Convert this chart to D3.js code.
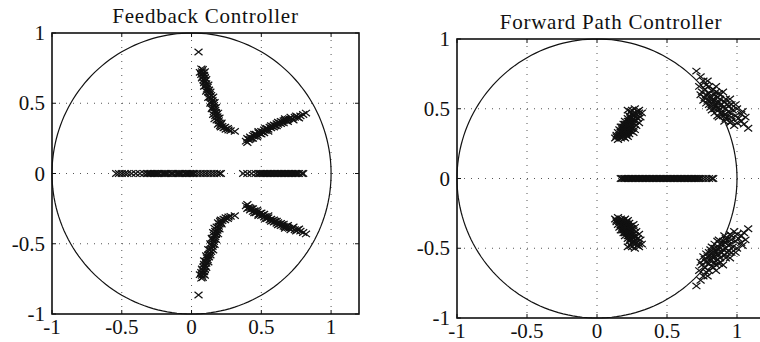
<!DOCTYPE html>
<html>
<head>
<meta charset="utf-8">
<script src="https://cdn.jsdelivr.net/npm/d3@7"></script>
<style>
  body { margin: 0; background: #fff; }
  svg text { font-family: "Liberation Serif", "DejaVu Serif", serif; fill: #111; }
</style>
</head>
<body>
<div id="chart"></div>
<script>
// axis setup shared by both panels
const xDomain = [-1, 1.2];
const yDomain = [-1, 1];
const tickValues = [-1, -0.5, 0, 0.5, 1];
const tickLabels = ['-1', '-0.5', '0', '0.5', '1'];

// Feedback controller poles (upper half plane, conjugates drawn too)
const feedbackBranchA = [
  [0.05,0.865],
  [0.07,0.745],[0.08,0.74],[0.075,0.725],[0.085,0.715],[0.07,0.705],[0.09,0.70],[0.08,0.69],
  [0.095,0.68],[0.085,0.665],[0.10,0.66],[0.09,0.645],[0.105,0.64],[0.10,0.625],[0.115,0.615],
  [0.11,0.60],[0.125,0.595],[0.12,0.58],[0.13,0.565],[0.14,0.555],[0.13,0.545],[0.145,0.535],
  [0.15,0.52],[0.14,0.51],[0.155,0.50],[0.16,0.485],[0.15,0.47],[0.165,0.465],[0.17,0.45],
  [0.16,0.44],[0.175,0.435],[0.18,0.42],[0.17,0.41],[0.185,0.405],[0.19,0.39],[0.18,0.38],
  [0.195,0.375],[0.20,0.36],[0.21,0.35],[0.205,0.34],[0.22,0.335],[0.23,0.325],[0.245,0.315],
  [0.265,0.31],[0.31,0.30],
  [0.06,0.72],[0.095,0.725],[0.075,0.68],[0.105,0.67],[0.09,0.62],[0.12,0.63],[0.105,0.585],
  [0.135,0.58],[0.12,0.54],[0.155,0.545],[0.135,0.50],[0.165,0.505],[0.145,0.46],[0.175,0.47],
  [0.155,0.42],[0.19,0.43],[0.165,0.39],[0.20,0.395],[0.19,0.35],[0.215,0.36],[0.21,0.33],
  [0.24,0.33],[0.26,0.32],[0.28,0.305]
];
const feedbackBranchB = [
  [0.39,0.23],[0.40,0.25],[0.41,0.24],[0.42,0.26],[0.43,0.25],[0.44,0.27],[0.45,0.265],
  [0.46,0.28],[0.47,0.275],[0.48,0.29],[0.49,0.285],[0.50,0.30],[0.51,0.295],[0.52,0.31],
  [0.53,0.305],[0.54,0.32],[0.55,0.315],[0.56,0.33],[0.57,0.325],[0.58,0.335],[0.59,0.345],
  [0.60,0.34],[0.61,0.355],[0.62,0.35],[0.63,0.36],[0.64,0.37],[0.65,0.365],[0.66,0.375],
  [0.67,0.38],[0.68,0.375],[0.69,0.385],[0.70,0.39],[0.72,0.39],[0.74,0.40],[0.76,0.40],
  [0.78,0.41],[0.82,0.43],
  [0.40,0.22],[0.42,0.245],[0.44,0.25],[0.45,0.28],[0.47,0.26],[0.48,0.30],[0.50,0.28],
  [0.52,0.29],[0.53,0.32],[0.55,0.30],[0.57,0.34],[0.59,0.33],[0.61,0.34],[0.62,0.365],
  [0.64,0.355],[0.66,0.36],[0.67,0.39],[0.69,0.37],[0.71,0.40],[0.73,0.38],[0.75,0.41],
  [0.77,0.395],[0.80,0.42]
];
const feedbackReal = [
  -0.54,-0.52,-0.50,-0.48,-0.46,-0.43,-0.40,-0.37,-0.34,-0.32,-0.31,-0.30,-0.29,-0.28,-0.27,
  -0.26,-0.25,-0.24,-0.23,-0.21,-0.20,-0.19,-0.18,-0.17,-0.15,-0.14,-0.13,-0.11,-0.10,-0.09,
  -0.08,-0.07,-0.05,-0.04,-0.03,-0.02,-0.01,0.00,0.01,0.02,0.04,0.06,0.08,0.10,0.12,0.14,
  0.16,0.18,0.20,0.21,
  0.37,0.40,0.43,0.46,0.48,0.49,0.50,0.51,0.52,0.53,0.54,0.55,0.56,0.57,0.58,0.59,0.60,
  0.61,0.62,0.63,0.64,0.65,0.66,0.67,0.68,0.69,0.70,0.71,0.72,0.73,0.74,0.75,0.76,0.77,
  0.79,0.80
];

// Forward path controller poles
const forwardInner = [
  [0.13,0.29],[0.15,0.28],[0.17,0.29],[0.14,0.31],[0.16,0.31],[0.18,0.30],[0.20,0.29],
  [0.22,0.30],[0.15,0.33],[0.17,0.33],[0.19,0.32],[0.21,0.32],[0.23,0.32],[0.16,0.35],
  [0.18,0.35],[0.20,0.34],[0.22,0.34],[0.24,0.34],[0.26,0.33],[0.17,0.37],[0.19,0.37],
  [0.21,0.36],[0.23,0.36],[0.25,0.36],[0.27,0.35],[0.19,0.39],[0.21,0.39],[0.23,0.38],
  [0.25,0.38],[0.28,0.38],[0.20,0.41],[0.22,0.41],[0.24,0.40],[0.27,0.41],[0.30,0.40],
  [0.22,0.43],[0.24,0.43],[0.26,0.43],[0.29,0.43],[0.31,0.44],[0.23,0.45],[0.25,0.46],
  [0.28,0.46],[0.30,0.47],[0.22,0.49],[0.25,0.49],[0.27,0.50],[0.30,0.49],[0.32,0.47],
  [0.14,0.30],[0.16,0.30],[0.19,0.30],[0.21,0.31],[0.18,0.33],[0.20,0.33],[0.22,0.33],
  [0.17,0.34],[0.19,0.35],[0.21,0.35],[0.23,0.35],[0.18,0.37],[0.20,0.37],[0.22,0.37],
  [0.24,0.37],[0.20,0.39],[0.22,0.39],[0.24,0.39],[0.26,0.40],[0.23,0.41],[0.25,0.42],
  [0.27,0.42],[0.24,0.44],[0.26,0.45],[0.28,0.44],[0.24,0.48],[0.29,0.48]
];
const forwardOuter = [
  [0.71,0.77],[0.74,0.73],[0.76,0.70],[0.73,0.66],[0.77,0.64],[0.80,0.66],[0.82,0.63],
  [0.78,0.60],[0.81,0.59],[0.84,0.60],[0.86,0.58],[0.79,0.56],[0.83,0.55],[0.87,0.55],
  [0.85,0.52],[0.89,0.53],[0.91,0.55],[0.81,0.51],[0.88,0.50],[0.92,0.50],[0.94,0.52],
  [0.84,0.47],[0.90,0.47],[0.95,0.47],[0.97,0.49],[0.87,0.44],[0.93,0.44],[0.99,0.45],
  [1.01,0.43],[0.91,0.41],[0.96,0.41],[1.03,0.41],[1.05,0.39],[1.08,0.36],[0.98,0.38],
  [0.75,0.62],[0.80,0.61],[0.83,0.57],[0.86,0.50],[0.90,0.45],[0.94,0.48],[0.88,0.57],
  [0.82,0.53],[0.77,0.58],[0.85,0.62],[1.00,0.40],[0.92,0.46],[0.96,0.44],
  [0.76,0.56],[0.80,0.53],[0.84,0.50],[0.88,0.47],[0.92,0.43],[0.95,0.40],[0.78,0.67],
  [0.83,0.64],[0.88,0.60],[0.92,0.57],[0.96,0.53],[1.00,0.50],[1.03,0.46],[0.86,0.54],
  [0.90,0.51],[0.93,0.53],[0.87,0.61],[0.82,0.56],
  [0.74,0.60],[0.78,0.54],[0.82,0.49],[0.86,0.45],[0.79,0.70],[0.85,0.66],[0.90,0.62],
  [0.95,0.57],[0.99,0.53],[1.04,0.48],[1.06,0.44]
];
const forwardReal = [
  0.17,0.18,0.19,0.20,0.21,0.22,0.23,0.24,0.25,0.26,0.27,0.28,0.29,0.30,0.31,0.32,0.33,
  0.34,0.35,0.36,0.37,0.38,0.39,0.40,0.41,0.42,0.43,0.44,0.45,0.46,0.47,0.48,0.49,0.50,
  0.51,0.52,0.53,0.54,0.55,0.56,0.57,0.58,0.59,0.60,0.61,0.62,0.63,0.64,0.65,0.66,0.67,
  0.68,0.69,0.70,0.71,0.72,0.73,0.74,0.76,0.78,0.80,0.82,0.83
];

function withConjugates(points) {
  return points.concat(points.map(p => [p[0], -p[1]]));
}

class PoleMapPanel {
  constructor(svg, left, top, width, height) {
    this.g = svg.append('g');
    this.left = left;
    this.top = top;
    this.width = width;
    this.height = height;
    this.x = d3.scaleLinear().domain(xDomain).range([left, left + width]);
    this.y = d3.scaleLinear().domain(yDomain).range([top + height, top]);
  }

  render(title, complexPoles, realPoles) {
    this.renderGrid();
    this.renderCircle();
    this.renderPoles(complexPoles.concat(realPoles.map(r => [r, 0])));
    this.renderFrame();
    this.renderText(title);
  }

  renderGrid() {
    const g = this.g;
    g.selectAll('.gx').data(tickValues.filter(t => t > xDomain[0]))
      .join('line')
      .attr('x1', d => this.x(d)).attr('x2', d => this.x(d))
      .attr('y1', this.top).attr('y2', this.top + this.height)
      .attr('stroke', '#555').attr('stroke-width', 1)
      .attr('stroke-dasharray', '1 6');
    g.selectAll('.gy').data(tickValues.filter(t => t > yDomain[0] && t < yDomain[1]))
      .join('line')
      .attr('y1', d => this.y(d)).attr('y2', d => this.y(d))
      .attr('x1', this.left).attr('x2', this.left + this.width)
      .attr('stroke', '#555').attr('stroke-width', 1)
      .attr('stroke-dasharray', '1 6');
  }

  renderCircle() {
    const angles = d3.range(0, 361, 2);
    const line = d3.line()
      .x(a => this.x(Math.cos(a * Math.PI / 180)))
      .y(a => this.y(Math.sin(a * Math.PI / 180)));
    this.g.append('path')
      .attr('d', line(angles))
      .attr('fill', 'none')
      .attr('stroke', '#111')
      .attr('stroke-width', 1.2);
  }

  renderPoles(points) {
    const w = 4, h = 3.2;
    this.g.append('g').selectAll('path').data(points)
      .join('path')
      .attr('d', d => {
        const px = this.x(d[0]), py = this.y(d[1]);
        return `M${px - w},${py - h}L${px + w},${py + h}M${px - w},${py + h}L${px + w},${py - h}`;
      })
      .attr('stroke', '#111')
      .attr('stroke-width', 1.25)
      .attr('fill', 'none');
  }

  renderFrame() {
    const g = this.g;
    g.append('rect')
      .attr('x', this.left).attr('y', this.top)
      .attr('width', this.width).attr('height', this.height)
      .attr('fill', 'none').attr('stroke', '#111').attr('stroke-width', 1.6);
    // little inward ticks, matlab style
    const tk = 4;
    g.selectAll('.tkx').data(tickValues).join('path')
      .attr('d', d => `M${this.x(d)},${this.top + this.height}v${-tk}M${this.x(d)},${this.top}v${tk}`)
      .attr('stroke', '#111');
    g.selectAll('.tky').data(tickValues).join('path')
      .attr('d', d => `M${this.left},${this.y(d)}h${tk}M${this.left + this.width},${this.y(d)}h${-tk}`)
      .attr('stroke', '#111');
  }

  renderText(title) {
    const g = this.g;
    g.append('text')
      .attr('x', this.left + this.width / 2)
      .attr('y', this.top - 10)
      .attr('text-anchor', 'middle')
      .attr('font-size', 21)
      .attr('letter-spacing', 0.75)
      .text(title);
    g.selectAll('.lx').data(tickValues).join('text')
      .attr('x', d => this.x(d))
      .attr('y', this.top + this.height + 20)
      .attr('text-anchor', 'middle')
      .attr('font-size', 21)
      .text((d, i) => tickLabels[i]);
    g.selectAll('.ly').data(tickValues).join('text')
      .attr('x', this.left - 7)
      .attr('y', d => this.y(d) + 7)
      .attr('text-anchor', 'end')
      .attr('font-size', 21)
      .text((d, i) => tickLabels[i]);
  }
}

const svg = d3.select('#chart').append('svg')
  .attr('width', 760).attr('height', 342)
  .style('background', '#fff');

const feedback = new PoleMapPanel(svg, 52, 33, 307, 281);
feedback.render('Feedback Controller',
  withConjugates(feedbackBranchA.concat(feedbackBranchB)), feedbackReal);

const forward = new PoleMapPanel(svg, 457, 39, 308, 279);
forward.render('Forward Path Controller',
  withConjugates(forwardInner.concat(forwardOuter)), forwardReal);
</script>
</body>
</html>
